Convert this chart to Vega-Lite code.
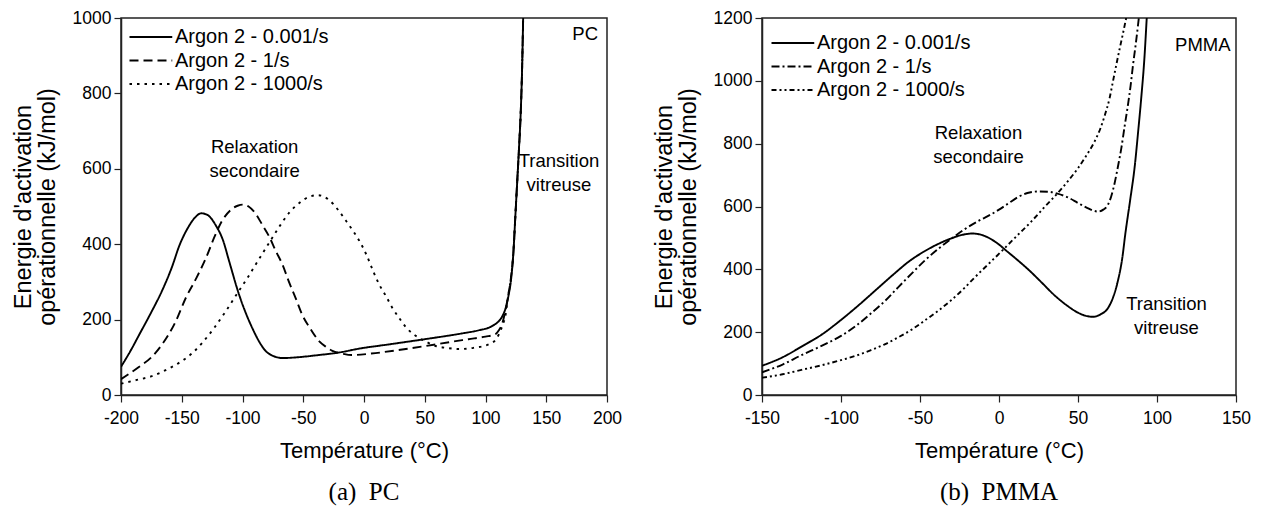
{
"$schema": "https://vega.github.io/schema/vega-lite/v6.json",
"padding": {"left": 10, "top": 8, "right": 5, "bottom": 0},
"config": {
  "font": "Liberation Sans",
  "view": {"stroke": "#222", "strokeWidth": 1.5},
  "axis": {"grid": false, "domainColor": "#222", "domainWidth": 1.5, "tickColor": "#222", "tickWidth": 1.2,
           "labelFontSize": 17.5, "labelColor": "#000", "labelFont": "Liberation Sans", "labelOverlap": false, "labelFlush": false, "labelBound": false,
           "titleFontSize": 22, "titleFontWeight": "normal", "titleColor": "#000", "titleFont": "Liberation Sans"},
  "concat": {"spacing": 28}
},
"resolve": {"scale": {"strokeDash": "independent"}, "legend": {"strokeDash": "independent"}},
"datasets": {
  "pc": [
    {"series":"Argon 2 - 0.001/s","T":-200,"E":75},{"series":"Argon 2 - 0.001/s","T":-192,"E":118},{"series":"Argon 2 - 0.001/s","T":-185,"E":160},{"series":"Argon 2 - 0.001/s","T":-175,"E":220},{"series":"Argon 2 - 0.001/s","T":-166,"E":278},{"series":"Argon 2 - 0.001/s","T":-158,"E":340},{"series":"Argon 2 - 0.001/s","T":-152,"E":396},{"series":"Argon 2 - 0.001/s","T":-145,"E":443},{"series":"Argon 2 - 0.001/s","T":-139,"E":471},{"series":"Argon 2 - 0.001/s","T":-134,"E":482},{"series":"Argon 2 - 0.001/s","T":-129,"E":478},{"series":"Argon 2 - 0.001/s","T":-122,"E":450},{"series":"Argon 2 - 0.001/s","T":-116,"E":410},{"series":"Argon 2 - 0.001/s","T":-111,"E":355},{"series":"Argon 2 - 0.001/s","T":-103,"E":268},{"series":"Argon 2 - 0.001/s","T":-97,"E":215},{"series":"Argon 2 - 0.001/s","T":-92,"E":178},{"series":"Argon 2 - 0.001/s","T":-86,"E":140},{"series":"Argon 2 - 0.001/s","T":-81,"E":117},{"series":"Argon 2 - 0.001/s","T":-75,"E":104},{"series":"Argon 2 - 0.001/s","T":-67,"E":98},{"series":"Argon 2 - 0.001/s","T":-55,"E":100},{"series":"Argon 2 - 0.001/s","T":-40,"E":105},{"series":"Argon 2 - 0.001/s","T":-20,"E":113},{"series":"Argon 2 - 0.001/s","T":-4,"E":123},{"series":"Argon 2 - 0.001/s","T":20,"E":134},{"series":"Argon 2 - 0.001/s","T":50,"E":148},{"series":"Argon 2 - 0.001/s","T":80,"E":163},{"series":"Argon 2 - 0.001/s","T":95,"E":172},{"series":"Argon 2 - 0.001/s","T":103,"E":179},{"series":"Argon 2 - 0.001/s","T":108,"E":188},{"series":"Argon 2 - 0.001/s","T":111,"E":196},{"series":"Argon 2 - 0.001/s","T":114,"E":210},{"series":"Argon 2 - 0.001/s","T":117,"E":235},{"series":"Argon 2 - 0.001/s","T":119,"E":265},{"series":"Argon 2 - 0.001/s","T":121,"E":305},{"series":"Argon 2 - 0.001/s","T":123,"E":380},{"series":"Argon 2 - 0.001/s","T":124.5,"E":470},{"series":"Argon 2 - 0.001/s","T":126,"E":560},{"series":"Argon 2 - 0.001/s","T":127.5,"E":650},{"series":"Argon 2 - 0.001/s","T":129,"E":750},{"series":"Argon 2 - 0.001/s","T":130,"E":850},{"series":"Argon 2 - 0.001/s","T":131,"E":1000},
    {"series":"Argon 2 - 1/s","T":-200,"E":42},{"series":"Argon 2 - 1/s","T":-185,"E":75},{"series":"Argon 2 - 1/s","T":-175,"E":100},{"series":"Argon 2 - 1/s","T":-166,"E":135},{"series":"Argon 2 - 1/s","T":-155,"E":195},{"series":"Argon 2 - 1/s","T":-146.6,"E":258},{"series":"Argon 2 - 1/s","T":-138,"E":310},{"series":"Argon 2 - 1/s","T":-130,"E":364},{"series":"Argon 2 - 1/s","T":-123,"E":420},{"series":"Argon 2 - 1/s","T":-117,"E":461},{"series":"Argon 2 - 1/s","T":-110,"E":490},{"series":"Argon 2 - 1/s","T":-104,"E":502},{"series":"Argon 2 - 1/s","T":-100,"E":505},{"series":"Argon 2 - 1/s","T":-95,"E":500},{"series":"Argon 2 - 1/s","T":-89,"E":480},{"series":"Argon 2 - 1/s","T":-84,"E":453},{"series":"Argon 2 - 1/s","T":-78,"E":420},{"series":"Argon 2 - 1/s","T":-72.6,"E":382},{"series":"Argon 2 - 1/s","T":-67,"E":345},{"series":"Argon 2 - 1/s","T":-62,"E":302},{"series":"Argon 2 - 1/s","T":-56,"E":255},{"series":"Argon 2 - 1/s","T":-51,"E":214},{"series":"Argon 2 - 1/s","T":-44,"E":175},{"series":"Argon 2 - 1/s","T":-37,"E":143},{"series":"Argon 2 - 1/s","T":-31,"E":127},{"series":"Argon 2 - 1/s","T":-26,"E":117},{"series":"Argon 2 - 1/s","T":-18,"E":110},{"series":"Argon 2 - 1/s","T":-10,"E":106},{"series":"Argon 2 - 1/s","T":6,"E":110},{"series":"Argon 2 - 1/s","T":30,"E":120},{"series":"Argon 2 - 1/s","T":50.8,"E":130},{"series":"Argon 2 - 1/s","T":70,"E":140},{"series":"Argon 2 - 1/s","T":86,"E":148},{"series":"Argon 2 - 1/s","T":100,"E":155},{"series":"Argon 2 - 1/s","T":108,"E":161},{"series":"Argon 2 - 1/s","T":111,"E":172},{"series":"Argon 2 - 1/s","T":113.6,"E":188},{"series":"Argon 2 - 1/s","T":116,"E":218},{"series":"Argon 2 - 1/s","T":118.5,"E":260},{"series":"Argon 2 - 1/s","T":120.7,"E":305},{"series":"Argon 2 - 1/s","T":123,"E":380},{"series":"Argon 2 - 1/s","T":124.5,"E":470},{"series":"Argon 2 - 1/s","T":126,"E":560},{"series":"Argon 2 - 1/s","T":127.5,"E":650},{"series":"Argon 2 - 1/s","T":129,"E":750},{"series":"Argon 2 - 1/s","T":130,"E":850},{"series":"Argon 2 - 1/s","T":131,"E":1000},
    {"series":"Argon 2 - 1000/s","T":-200,"E":30},{"series":"Argon 2 - 1000/s","T":-187,"E":40},{"series":"Argon 2 - 1000/s","T":-174.5,"E":50},{"series":"Argon 2 - 1000/s","T":-162,"E":68},{"series":"Argon 2 - 1000/s","T":-150,"E":90},{"series":"Argon 2 - 1000/s","T":-141,"E":112},{"series":"Argon 2 - 1000/s","T":-133,"E":139},{"series":"Argon 2 - 1000/s","T":-124,"E":175},{"series":"Argon 2 - 1000/s","T":-113.6,"E":223},{"series":"Argon 2 - 1000/s","T":-103,"E":276},{"series":"Argon 2 - 1000/s","T":-96,"E":310},{"series":"Argon 2 - 1000/s","T":-89,"E":347},{"series":"Argon 2 - 1000/s","T":-78,"E":404},{"series":"Argon 2 - 1000/s","T":-70,"E":445},{"series":"Argon 2 - 1000/s","T":-61.7,"E":483},{"series":"Argon 2 - 1000/s","T":-53,"E":510},{"series":"Argon 2 - 1000/s","T":-45,"E":526},{"series":"Argon 2 - 1000/s","T":-38,"E":530},{"series":"Argon 2 - 1000/s","T":-29,"E":518},{"series":"Argon 2 - 1000/s","T":-20.6,"E":488},{"series":"Argon 2 - 1000/s","T":-15,"E":463},{"series":"Argon 2 - 1000/s","T":-10,"E":440},{"series":"Argon 2 - 1000/s","T":-4,"E":410},{"series":"Argon 2 - 1000/s","T":2,"E":372},{"series":"Argon 2 - 1000/s","T":8,"E":325},{"series":"Argon 2 - 1000/s","T":13,"E":290},{"series":"Argon 2 - 1000/s","T":18,"E":263},{"series":"Argon 2 - 1000/s","T":23,"E":233},{"series":"Argon 2 - 1000/s","T":28.8,"E":205},{"series":"Argon 2 - 1000/s","T":35,"E":178},{"series":"Argon 2 - 1000/s","T":45,"E":152},{"series":"Argon 2 - 1000/s","T":52,"E":140},{"series":"Argon 2 - 1000/s","T":59,"E":130},{"series":"Argon 2 - 1000/s","T":68,"E":125},{"series":"Argon 2 - 1000/s","T":78,"E":122},{"series":"Argon 2 - 1000/s","T":90,"E":125},{"series":"Argon 2 - 1000/s","T":103,"E":135},{"series":"Argon 2 - 1000/s","T":108,"E":145},{"series":"Argon 2 - 1000/s","T":111,"E":161},{"series":"Argon 2 - 1000/s","T":114,"E":185},{"series":"Argon 2 - 1000/s","T":116.6,"E":214},{"series":"Argon 2 - 1000/s","T":118.5,"E":260},{"series":"Argon 2 - 1000/s","T":120.7,"E":305},{"series":"Argon 2 - 1000/s","T":123,"E":380},{"series":"Argon 2 - 1000/s","T":124.5,"E":470},{"series":"Argon 2 - 1000/s","T":126,"E":560},{"series":"Argon 2 - 1000/s","T":127.5,"E":650},{"series":"Argon 2 - 1000/s","T":129,"E":750},{"series":"Argon 2 - 1000/s","T":130,"E":850},{"series":"Argon 2 - 1000/s","T":131,"E":1000}
  ],
  "pmma": [
    {"series":"Argon 2 - 0.001/s","T":-150,"E":93},{"series":"Argon 2 - 0.001/s","T":-137,"E":120},{"series":"Argon 2 - 0.001/s","T":-125,"E":154},{"series":"Argon 2 - 0.001/s","T":-112,"E":193},{"series":"Argon 2 - 0.001/s","T":-100,"E":239},{"series":"Argon 2 - 0.001/s","T":-89,"E":285},{"series":"Argon 2 - 0.001/s","T":-78,"E":334},{"series":"Argon 2 - 0.001/s","T":-67,"E":383},{"series":"Argon 2 - 0.001/s","T":-57,"E":425},{"series":"Argon 2 - 0.001/s","T":-48,"E":455},{"series":"Argon 2 - 0.001/s","T":-40,"E":477},{"series":"Argon 2 - 0.001/s","T":-31,"E":497},{"series":"Argon 2 - 0.001/s","T":-23,"E":510},{"series":"Argon 2 - 0.001/s","T":-17,"E":514},{"series":"Argon 2 - 0.001/s","T":-10,"E":508},{"series":"Argon 2 - 0.001/s","T":-4,"E":493},{"series":"Argon 2 - 0.001/s","T":0,"E":479},{"series":"Argon 2 - 0.001/s","T":4,"E":462},{"series":"Argon 2 - 0.001/s","T":13,"E":424},{"series":"Argon 2 - 0.001/s","T":18,"E":402},{"series":"Argon 2 - 0.001/s","T":27,"E":358},{"series":"Argon 2 - 0.001/s","T":35,"E":318},{"series":"Argon 2 - 0.001/s","T":43,"E":285},{"series":"Argon 2 - 0.001/s","T":50,"E":262},{"series":"Argon 2 - 0.001/s","T":55,"E":252},{"series":"Argon 2 - 0.001/s","T":59.5,"E":249},{"series":"Argon 2 - 0.001/s","T":64,"E":256},{"series":"Argon 2 - 0.001/s","T":69,"E":277},{"series":"Argon 2 - 0.001/s","T":72,"E":308},{"series":"Argon 2 - 0.001/s","T":75,"E":358},{"series":"Argon 2 - 0.001/s","T":78,"E":435},{"series":"Argon 2 - 0.001/s","T":80,"E":515},{"series":"Argon 2 - 0.001/s","T":83,"E":620},{"series":"Argon 2 - 0.001/s","T":86,"E":732},{"series":"Argon 2 - 0.001/s","T":88,"E":835},{"series":"Argon 2 - 0.001/s","T":90,"E":944},{"series":"Argon 2 - 0.001/s","T":92,"E":1070},{"series":"Argon 2 - 0.001/s","T":93.5,"E":1200},
    {"series":"Argon 2 - 1/s","T":-150,"E":72},{"series":"Argon 2 - 1/s","T":-137,"E":97},{"series":"Argon 2 - 1/s","T":-125,"E":127},{"series":"Argon 2 - 1/s","T":-112,"E":157},{"series":"Argon 2 - 1/s","T":-100,"E":188},{"series":"Argon 2 - 1/s","T":-90,"E":222},{"series":"Argon 2 - 1/s","T":-81,"E":260},{"series":"Argon 2 - 1/s","T":-72,"E":300},{"series":"Argon 2 - 1/s","T":-64,"E":342},{"series":"Argon 2 - 1/s","T":-55,"E":388},{"series":"Argon 2 - 1/s","T":-47,"E":428},{"series":"Argon 2 - 1/s","T":-38,"E":467},{"series":"Argon 2 - 1/s","T":-30,"E":498},{"series":"Argon 2 - 1/s","T":-22,"E":527},{"series":"Argon 2 - 1/s","T":-13,"E":554},{"series":"Argon 2 - 1/s","T":-5,"E":575},{"series":"Argon 2 - 1/s","T":0,"E":590},{"series":"Argon 2 - 1/s","T":6,"E":610},{"series":"Argon 2 - 1/s","T":12,"E":630},{"series":"Argon 2 - 1/s","T":18,"E":643},{"series":"Argon 2 - 1/s","T":25,"E":648},{"series":"Argon 2 - 1/s","T":31,"E":647},{"series":"Argon 2 - 1/s","T":37,"E":641},{"series":"Argon 2 - 1/s","T":44,"E":628},{"series":"Argon 2 - 1/s","T":50,"E":611},{"series":"Argon 2 - 1/s","T":56,"E":595},{"series":"Argon 2 - 1/s","T":62.7,"E":584},{"series":"Argon 2 - 1/s","T":66,"E":590},{"series":"Argon 2 - 1/s","T":69,"E":606},{"series":"Argon 2 - 1/s","T":71,"E":632},{"series":"Argon 2 - 1/s","T":73.2,"E":675},{"series":"Argon 2 - 1/s","T":75.5,"E":733},{"series":"Argon 2 - 1/s","T":77.4,"E":785},{"series":"Argon 2 - 1/s","T":79.5,"E":855},{"series":"Argon 2 - 1/s","T":81.6,"E":923},{"series":"Argon 2 - 1/s","T":83.3,"E":985},{"series":"Argon 2 - 1/s","T":84.8,"E":1050},{"series":"Argon 2 - 1/s","T":86.5,"E":1115},{"series":"Argon 2 - 1/s","T":88,"E":1178},{"series":"Argon 2 - 1/s","T":88.5,"E":1200},
    {"series":"Argon 2 - 1000/s","T":-150,"E":55},{"series":"Argon 2 - 1000/s","T":-137,"E":66},{"series":"Argon 2 - 1000/s","T":-125,"E":80},{"series":"Argon 2 - 1000/s","T":-112,"E":95},{"series":"Argon 2 - 1000/s","T":-100,"E":111},{"series":"Argon 2 - 1000/s","T":-90,"E":126},{"series":"Argon 2 - 1000/s","T":-81,"E":143},{"series":"Argon 2 - 1000/s","T":-72,"E":162},{"series":"Argon 2 - 1000/s","T":-64,"E":183},{"series":"Argon 2 - 1000/s","T":-55,"E":209},{"series":"Argon 2 - 1000/s","T":-47,"E":237},{"series":"Argon 2 - 1000/s","T":-38,"E":270},{"series":"Argon 2 - 1000/s","T":-30,"E":303},{"series":"Argon 2 - 1000/s","T":-22,"E":340},{"series":"Argon 2 - 1000/s","T":-15.4,"E":374},{"series":"Argon 2 - 1000/s","T":-6,"E":420},{"series":"Argon 2 - 1000/s","T":2.5,"E":462},{"series":"Argon 2 - 1000/s","T":12,"E":510},{"series":"Argon 2 - 1000/s","T":20.4,"E":552},{"series":"Argon 2 - 1000/s","T":28,"E":594},{"series":"Argon 2 - 1000/s","T":37,"E":642},{"series":"Argon 2 - 1000/s","T":44,"E":683},{"series":"Argon 2 - 1000/s","T":50,"E":722},{"series":"Argon 2 - 1000/s","T":55,"E":760},{"series":"Argon 2 - 1000/s","T":60.6,"E":808},{"series":"Argon 2 - 1000/s","T":64,"E":846},{"series":"Argon 2 - 1000/s","T":67,"E":891},{"series":"Argon 2 - 1000/s","T":70,"E":945},{"series":"Argon 2 - 1000/s","T":72,"E":995},{"series":"Argon 2 - 1000/s","T":74,"E":1045},{"series":"Argon 2 - 1000/s","T":76.4,"E":1103},{"series":"Argon 2 - 1000/s","T":78,"E":1140},{"series":"Argon 2 - 1000/s","T":79.6,"E":1178},{"series":"Argon 2 - 1000/s","T":80.5,"E":1200}
  ],
  "pcNotes": [
    {"label":"Relaxation\nsecondaire","T":-90,"E":658},
    {"label":"Transition\nvitreuse","T":160.5,"E":622},
    {"label":"PC","T":182,"E":957}
  ],
  "pmmaNotes": [
    {"label":"Relaxation\nsecondaire","T":-13,"E":835},
    {"label":"Transition\nvitreuse","T":106,"E":291},
    {"label":"PMMA","T":129,"E":1114}
  ]
},
"hconcat": [
  {
    "width": 486, "height": 377,
    "title": {"text": "(a)\u2002PC", "orient": "bottom", "font": "Liberation Serif", "fontSize": 25, "fontWeight": "normal", "color": "#000", "offset": 18},
    "layer": [
      {
        "data": {"name": "pc"},
        "mark": {"type": "line", "clip": true, "color": "#000", "strokeWidth": 1.9, "interpolate": "monotone"},
        "encoding": {
          "x": {"field": "T", "type": "quantitative", "scale": {"domain": [-200, 200], "nice": false, "zero": false},
                "axis": {"title": "Température (°C)", "values": [-200,-175,-150,-125,-100,-75,-50,-25,0,25,50,75,100,125,150,175,200],
                         "labelExpr": "datum.value % 50 === 0 ? '' + datum.value : ''",
                         "tickSize": {"condition": {"test": "datum.value % 50 === 0", "value": 7}, "value": 4},
                         "labelPadding": 7, "titlePadding": 14}},
          "y": {"field": "E", "type": "quantitative", "scale": {"domain": [0, 1000], "nice": false},
                "axis": {"title": ["Energie d'activation", "opérationnelle (kJ/mol)"], "titleFontSize": 23.5, "titleLineHeight": 24,
                         "values": [0,100,200,300,400,500,600,700,800,900,1000],
                         "labelExpr": "datum.value % 200 === 0 ? '' + datum.value : ''",
                         "tickSize": {"condition": {"test": "datum.value % 200 === 0", "value": 7}, "value": 4},
                         "labelPadding": 3, "titlePadding": 13}},
          "strokeDash": {"field": "series", "type": "nominal",
                         "scale": {"domain": ["Argon 2 - 0.001/s", "Argon 2 - 1/s", "Argon 2 - 1000/s"], "range": [[1, 0], [9, 5], [2.5, 5]]},
                         "legend": {"title": null, "orient": "none", "legendX": 3, "legendY": 9, "symbolType": "M-1,0H8.5", "symbolSize": 81,
                                    "symbolStrokeWidth": 1.9, "symbolStrokeColor": "#000", "labelOffset": 31, "labelFontSize": 20,
                                    "labelFont": "Liberation Sans", "labelColor": "#000", "rowPadding": 3.5, "padding": 0}}
        }
      },
      {
        "data": {"name": "pcNotes"},
        "mark": {"type": "text", "fontSize": 18.5, "lineBreak": "\n", "lineHeight": 24, "align": "center", "baseline": "middle", "color": "#000"},
        "encoding": {
          "x": {"field": "T", "type": "quantitative"},
          "y": {"field": "E", "type": "quantitative"},
          "text": {"field": "label"}
        }
      }
    ]
  },
  {
    "width": 474, "height": 377,
    "title": {"text": "(b)\u2002PMMA", "orient": "bottom", "font": "Liberation Serif", "fontSize": 25, "fontWeight": "normal", "color": "#000", "offset": 18},
    "layer": [
      {
        "data": {"name": "pmma"},
        "mark": {"type": "line", "clip": true, "color": "#000", "strokeWidth": 1.9, "interpolate": "monotone"},
        "encoding": {
          "x": {"field": "T", "type": "quantitative", "scale": {"domain": [-150, 150], "nice": false, "zero": false},
                "axis": {"title": "Température (°C)", "values": [-150,-125,-100,-75,-50,-25,0,25,50,75,100,125,150],
                         "labelExpr": "datum.value % 50 === 0 ? '' + datum.value : ''",
                         "tickSize": {"condition": {"test": "datum.value % 50 === 0", "value": 7}, "value": 4},
                         "labelPadding": 7, "titlePadding": 14}},
          "y": {"field": "E", "type": "quantitative", "scale": {"domain": [0, 1200], "nice": false},
                "axis": {"title": ["Energie d'activation", "opérationnelle (kJ/mol)"], "titleFontSize": 23.5, "titleLineHeight": 24,
                         "values": [0,100,200,300,400,500,600,700,800,900,1000,1100,1200],
                         "labelExpr": "datum.value % 200 === 0 ? '' + datum.value : ''",
                         "tickSize": {"condition": {"test": "datum.value % 200 === 0", "value": 7}, "value": 4},
                         "labelPadding": 3, "titlePadding": 13}},
          "strokeDash": {"field": "series", "type": "nominal",
                         "scale": {"domain": ["Argon 2 - 0.001/s", "Argon 2 - 1/s", "Argon 2 - 1000/s"], "range": [[1, 0], [8, 3, 2, 3], [5, 3, 2, 3, 2, 3]]},
                         "legend": {"title": null, "orient": "none", "legendX": 4, "legendY": 15, "symbolType": "M-1,0H8.5", "symbolSize": 81,
                                    "symbolStrokeWidth": 1.9, "symbolStrokeColor": "#000", "labelOffset": 31, "labelFontSize": 20,
                                    "labelFont": "Liberation Sans", "labelColor": "#000", "rowPadding": 3.5, "padding": 0}}
        }
      },
      {
        "data": {"name": "pmmaNotes"},
        "mark": {"type": "text", "fontSize": 18.5, "lineBreak": "\n", "lineHeight": 24, "align": "center", "baseline": "middle", "color": "#000"},
        "encoding": {
          "x": {"field": "T", "type": "quantitative"},
          "y": {"field": "E", "type": "quantitative"},
          "text": {"field": "label"}
        }
      }
    ]
  }
]
}
